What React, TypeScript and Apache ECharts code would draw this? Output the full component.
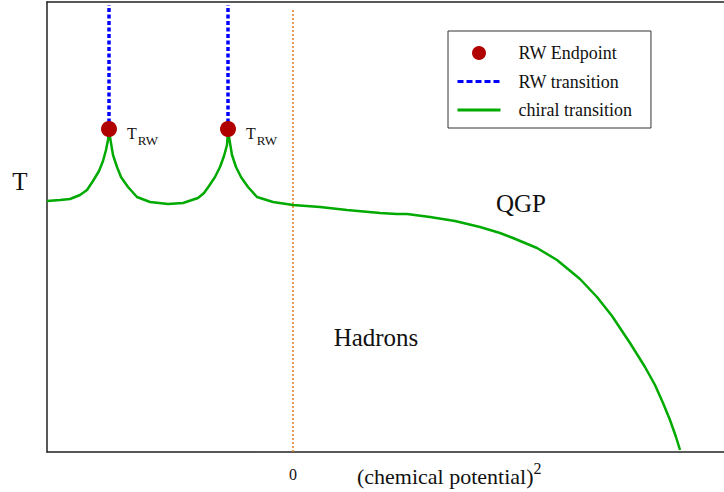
import React, { useEffect, useRef } from "react";
import * as echarts from "echarts";

// chiral transition line: (chemical potential)^2 vs T (arbitrary units)
const chiralMu2 = [
  -2.46, -2.33, -2.23, -2.13, -2.06, -2.0, -1.94, -1.9, -1.87, -1.85, -1.84,
  -1.82, -1.8, -1.76, -1.72, -1.65, -1.56, -1.43, -1.25, -1.1, -0.95, -0.89,
  -0.84, -0.78, -0.73, -0.69, -0.66, -0.65, -0.63, -0.61, -0.57, -0.52, -0.45,
  -0.36, -0.2, 0.0, 0.27, 0.54, 0.87, 1.04, 1.14, 1.37, 1.62, 1.87, 2.07, 2.2,
  2.44, 2.64, 2.87, 3.04, 3.19, 3.37, 3.52, 3.62, 3.7, 3.77, 3.83, 3.87,
];
const chiralT = [
  2.51, 2.52, 2.53, 2.57, 2.62, 2.71, 2.81, 2.91, 3.02, 3.12, 3.21,
  3.09, 2.97, 2.85, 2.75, 2.65, 2.55, 2.5, 2.48, 2.49, 2.54, 2.59,
  2.66, 2.75, 2.85, 2.96, 3.07, 3.21, 3.09, 2.97, 2.85, 2.75, 2.65,
  2.55, 2.5, 2.47, 2.45, 2.42, 2.39, 2.38, 2.38, 2.35, 2.31, 2.25, 2.19, 2.14,
  2.04, 1.92, 1.73, 1.55, 1.36, 1.09, 0.85, 0.67, 0.49, 0.32, 0.15, 0.02,
];
// Roberge-Weiss endpoints and transition lines
const rwMu2 = [-1.84, -0.65];
const rwT = [3.23, 3.23];
const rwTopT = 4.47;
// mu^2 = 0 marker line
const zeroLineMu2 = 0;
const zeroLineTopT = 4.42;
const xTickValues = [0];
const xRange = [-2.46, 4.31];
const yRange = [0, 4.5];

const SERIF = "Liberation Serif";

export default function App() {
  const ref = useRef<HTMLDivElement>(null);
  useEffect(() => {
    const chart = echarts.init(ref.current!, null, { renderer: "svg" });
    const axisLine = { show: true, onZero: false, lineStyle: { color: "#222", width: 1.5 } };
    const hidden = { color: "rgba(0,0,0,0)", opacity: 0, borderWidth: 0 };
    const option: any = {
      animation: false,
      backgroundColor: "#fff",
      textStyle: { fontFamily: SERIF },
      grid: { left: 47, right: 0, top: 2, bottom: 40 },
      xAxis: [
        {
          type: "value",
          min: xRange[0],
          max: xRange[1],
          axisLine,
          axisTick: { show: false },
          splitLine: { show: false },
          axisLabel: {
            customValues: xTickValues,
            fontSize: 16,
            fontFamily: SERIF,
            color: "#111",
            margin: 14,
          },
        },
        {
          type: "value",
          position: "top",
          min: xRange[0],
          max: xRange[1],
          axisLine,
          axisTick: { show: false },
          splitLine: { show: false },
          axisLabel: { show: false },
        },
      ],
      yAxis: {
        type: "value",
        min: yRange[0],
        max: yRange[1],
        axisLine,
        axisTick: { show: false },
        splitLine: { show: false },
        axisLabel: { show: false },
      },
      legend: {
        orient: "vertical",
        left: 448,
        top: 31,
        selectedMode: false,
        borderColor: "#333",
        borderWidth: 1,
        backgroundColor: "#fff",
        padding: [13, 19, 9, 8],
        itemWidth: 43,
        itemHeight: 14,
        itemGap: 10.5,
        textStyle: {
          fontFamily: SERIF,
          fontSize: 18,
          lineHeight: 18,
          color: "#111",
          padding: [0, 0, 0, 13],
        },
        data: [
          { name: "RW Endpoint", icon: "circle", itemStyle: { color: "#b00000", opacity: 1 } },
          {
            name: "RW transition",
            lineStyle: { type: [6, 3], width: 3, color: "#0000ff" },
            itemStyle: hidden,
          },
          {
            name: "chiral transition",
            lineStyle: { width: 3, color: "#00aa00" },
            itemStyle: hidden,
          },
        ],
      },
      series: [
        {
          type: "line",
          name: "chiral transition",
          data: chiralMu2.map((x, i) => [x, chiralT[i]]),
          symbol: "none",
          lineStyle: { color: "#00aa00", width: 2.5 },
          itemStyle: { color: "#00aa00" },
          z: 3,
        },
        {
          type: "line",
          name: "mu2zero",
          data: [
            [zeroLineMu2, yRange[0]],
            [zeroLineMu2, zeroLineTopT],
          ],
          symbol: "none",
          lineStyle: { color: "#dd7a22", width: 1.5, type: [2, 2] },
          silent: true,
          z: 2,
        },
        ...rwMu2.map((x, i) => ({
          type: "line",
          name: "RW transition",
          data: [
            [x, rwT[i]],
            [x, rwTopT],
          ],
          symbol: "none",
          lineStyle: { color: "#0000ff", width: 3.5, type: [4, 2.5] },
          itemStyle: { color: "#0000ff" },
          z: 4,
        })),
        {
          type: "scatter",
          name: "RW Endpoint",
          data: rwMu2.map((x, i) => [x, rwT[i]]),
          symbolSize: 16,
          itemStyle: { color: "#b00000", opacity: 1 },
          z: 5,
          label: {
            show: true,
            position: "right",
            distance: 10,
            offset: [0, 4],
            formatter: "{t|T}{s|RW}",
            rich: {
              t: { fontFamily: SERIF, fontSize: 16, lineHeight: 16, color: "#111", verticalAlign: "top" },
              s: {
                fontFamily: SERIF,
                fontSize: 13,
                lineHeight: 13,
                color: "#111",
                verticalAlign: "top",
                padding: [9, 0, 0, 1],
              },
            },
          },
        },
      ],
      graphic: [
        {
          type: "text",
          x: 20,
          y: 181,
          style: { text: "T", fontFamily: SERIF, fontSize: 25, fill: "#111", align: "center", verticalAlign: "middle" },
        },
        {
          type: "text",
          x: 521,
          y: 203,
          style: { text: "QGP", fontFamily: SERIF, fontSize: 25, fill: "#111", align: "center", verticalAlign: "middle" },
        },
        {
          type: "text",
          x: 376,
          y: 337,
          style: { text: "Hadrons", fontFamily: SERIF, fontSize: 25, fill: "#111", align: "center", verticalAlign: "middle" },
        },
        {
          type: "text",
          x: 357,
          y: 459,
          style: {
            text: "{a|(chemical potential)}{b|2}",
            fontFamily: SERIF,
            align: "left",
            verticalAlign: "top",
            rich: {
              a: { fontFamily: SERIF, fontSize: 22, lineHeight: 22, fill: "#111", verticalAlign: "top", padding: [6, 0, 0, 0] },
              b: { fontFamily: SERIF, fontSize: 16, lineHeight: 16, fill: "#111", verticalAlign: "top", padding: [1, 0, 0, 0] },
            },
          },
        },
      ],
    };
    chart.setOption(option);
    return () => chart.dispose();
  }, []);
  return (
    <div
      ref={ref}
      style={{ position: "absolute", left: 0, top: 0, width: 724, height: 492 }}
    />
  );
}
